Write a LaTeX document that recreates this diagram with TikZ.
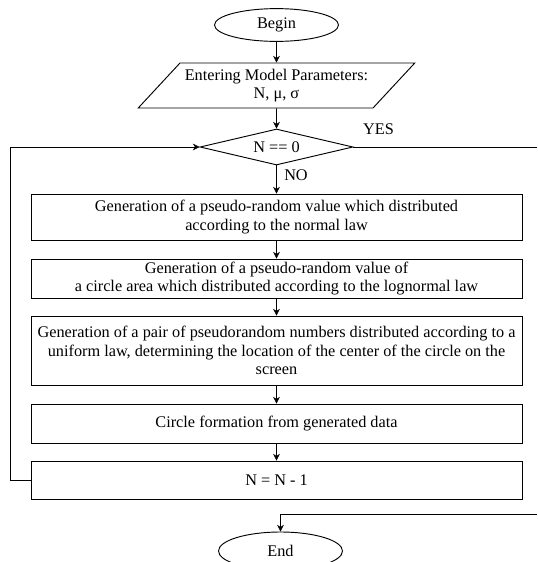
\documentclass[tikz,border=0pt]{standalone}
\usepackage{fontspec}
\setmainfont{Liberation Serif}
\usetikzlibrary{shapes.geometric,arrows.meta}
\begin{document}
\begin{tikzpicture}[x=0.75pt,y=-0.75pt,>={Stealth[length=5pt,width=5pt]},
    every node/.style={font=\fontsize{12.2}{13.9}\selectfont},
    blk/.style={draw,line width=0.7pt,minimum width=368.25pt,inner sep=0pt,align=center},
    oval/.style={draw,ellipse,line width=0.7pt,minimum width=93pt}]
    \useasboundingbox (0,0) rectangle (537,562);

    \node[oval,minimum height=22.5pt](b) at (276.5,25) {Begin};
    \node[draw,line width=0.7pt,trapezium,trapezium left angle=40,trapezium right angle=140,trapezium stretches=true,minimum width=207.75pt,minimum height=33.75pt,inner sep=0pt,align=center](p) at (276.5,85.5) {Entering Model Parameters:\\N, μ, σ};
    \node[draw,line width=0.7pt,diamond,aspect=4,minimum width=114.75pt,minimum height=27pt,inner sep=0pt](d) at (276.5,147) {N == 0};
    \node[blk,minimum height=34.5pt](1) at (276.5,217) {Generation of a pseudo-random value which distributed\\according to the normal law};
    \node[blk,minimum height=29.25pt](2) at (276.5,278.5) {Generation of a pseudo-random value of\\a circle area which distributed according to the lognormal law};
    \node[blk,minimum height=51.75pt](3) at (276.5,350.5) {Generation of a pair of pseudorandom numbers distributed according to a\\uniform law, determining the location of the center of the circle on the\\screen};
    \node[blk,minimum height=29.25pt](4) at (276.5,423.5) {Circle formation from generated data};
    \node[blk,minimum height=28.5pt](5) at (276.5,480) {N = N - 1};
    \node[oval,minimum height=28.5pt](e) at (280.5,551) {End};
    \node(yes) at (378.5,129) {YES};
    \node(no) at (296,175) {NO};

    \coordinate(l) at (10,147);
    \coordinate(r) at (537,147);
    \coordinate(s) at (537,514);

    \draw [->] (b) -- (p);
    \draw [->] (p) -- (d);
    \draw [->] (d) -- (1);
    \draw [->] (1) -- (2);
    \draw [->] (2) -- (3);
    \draw [->] (3) -- (4);
    \draw [->] (4) -- (5);
    \draw [->] (5.west) -| (l) -- (d.west);
    \draw [-] (d.east) -- (r);
    \draw [->] (s) -| (e.north);
\end{tikzpicture}
\end{document}
